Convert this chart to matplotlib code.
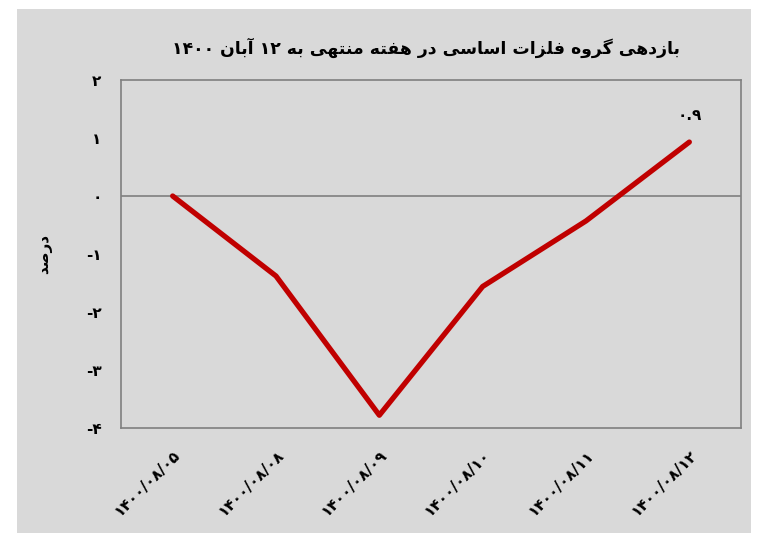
import matplotlib
matplotlib.use("Agg")
import matplotlib.pyplot as plt
from matplotlib.patches import Rectangle

# ---------------- data ----------------
dates = ["۱۴۰۰/۰۸/۰۵", "۱۴۰۰/۰۸/۰۸", "۱۴۰۰/۰۸/۰۹", "۱۴۰۰/۰۸/۱۰", "۱۴۰۰/۰۸/۱۱", "۱۴۰۰/۰۸/۱۲"]
returns = [0.0, -1.38, -3.78, -1.56, -0.43, 0.93]
last_label = "۰.۹"
y_ticks = [-4, -3, -2, -1, 0, 1, 2]
y_tick_labels = ["-۴", "-۳", "-۲", "-۱", "۰", "۱", "۲"]
title_text = "بازدهی گروه فلزات اساسی در هفته منتهی به ۱۲ آبان ۱۴۰۰"
ylabel_text = "درصد"

# ---------------- minimal Persian shaping ----------------
FORMS = {
    "ا": ("\uFE8D", "\uFE8E", None, None),
    "آ": ("\uFE81", "\uFE82", None, None),
    "ب": ("\uFE8F", "\uFE90", "\uFE91", "\uFE92"),
    "ت": ("\uFE95", "\uFE96", "\uFE97", "\uFE98"),
    "د": ("\uFEA9", "\uFEAA", None, None),
    "ر": ("\uFEAD", "\uFEAE", None, None),
    "ز": ("\uFEAF", "\uFEB0", None, None),
    "س": ("\uFEB1", "\uFEB2", "\uFEB3", "\uFEB4"),
    "ص": ("\uFEB9", "\uFEBA", "\uFEBB", "\uFEBC"),
    "ف": ("\uFED1", "\uFED2", "\uFED3", "\uFED4"),
    "ل": ("\uFEDD", "\uFEDE", "\uFEDF", "\uFEE0"),
    "م": ("\uFEE1", "\uFEE2", "\uFEE3", "\uFEE4"),
    "ن": ("\uFEE5", "\uFEE6", "\uFEE7", "\uFEE8"),
    "ه": ("\uFEE9", "\uFEEA", "\uFEEB", "\uFEEC"),
    "و": ("\uFEED", "\uFEEE", None, None),
    "ی": ("\uFBFC", "\uFBFD", "\uFBFE", "\uFBFF"),
    "گ": ("\uFB92", "\uFB93", "\uFB94", "\uFB95"),
}


def shape(text):
    out = []
    n = len(text)
    for i, ch in enumerate(text):
        if ch not in FORMS:
            out.append(ch)
            continue
        prev = text[i - 1] if i > 0 else ""
        nxt = text[i + 1] if i < n - 1 else ""
        join_prev = prev in FORMS and FORMS[prev][2] is not None
        join_next = nxt in FORMS and FORMS[ch][2] is not None
        iso, fin, ini, med = FORMS[ch]
        if join_prev and join_next:
            out.append(med)
        elif join_prev:
            out.append(fin)
        elif join_next:
            out.append(ini)
        else:
            out.append(iso)
    shaped = "".join(out)
    runs = []
    cur = ""
    cur_digit = None
    for ch in shaped:
        is_d = ch.isdigit() or ch in ".٫/"
        if cur_digit is None or is_d == cur_digit:
            cur += ch
        else:
            runs.append((cur, cur_digit))
            cur = ch
        cur_digit = is_d
    if cur:
        runs.append((cur, cur_digit))
    vis = []
    for r, d in reversed(runs):
        vis.append(r if d else r[::-1])
    return "".join(vis)


plt.rcParams["font.family"] = ["DejaVu Sans"]

fig = plt.figure(figsize=(7.59, 5.37), dpi=100)
fig.patch.set_facecolor("white")
W, H = 759, 537
bg = Rectangle((17 / W, 1 - 533 / H), (751 - 17) / W, (533 - 9) / H,
               transform=fig.transFigure, facecolor="#D9D9D9",
               edgecolor="none", zorder=-10)
fig.add_artist(bg)

ax = fig.add_axes([121 / W, 1 - 428 / H, (741 - 121) / W, (428 - 80) / H])
ax.set_zorder(1)
ax.set_facecolor("#D9D9D9")
x = list(range(len(dates)))
ax.plot(x, returns, color="#C00000", linewidth=3.8, solid_capstyle="round",
        solid_joinstyle="round", zorder=3)
ax.axhline(0, color="#808080", linewidth=1.2, zorder=2)

ax.set_xlim(-0.5, len(dates) - 0.5)
ax.set_ylim(-4, 2)
ax.set_yticks(y_ticks)
ax.set_yticklabels(y_tick_labels, fontsize=11, fontweight="bold")
ax.set_xticks(x)
ax.set_xticklabels(dates, rotation=45, ha="right", va="top", rotation_mode="anchor",
                   fontsize=11, fontweight="bold")
ax.tick_params(axis="y", length=0, pad=14)
ax.tick_params(axis="x", length=0, pad=14)
for s in ax.spines.values():
    s.set_color("#808080")
    s.set_linewidth(1.2)

ax.annotate(last_label, (x[-1], returns[-1]), xytext=(0, 14), textcoords="offset points",
            ha="center", va="bottom", fontsize=11, fontweight="bold")

ax.set_ylabel(shape(ylabel_text), fontsize=11, fontweight="bold", labelpad=24)
fig.text(426 / W, 1 - 48 / H, shape(title_text), ha="center", va="center",
         fontsize=12.4, fontweight="bold")

fig.savefig("out.png", dpi=100, facecolor="white")
